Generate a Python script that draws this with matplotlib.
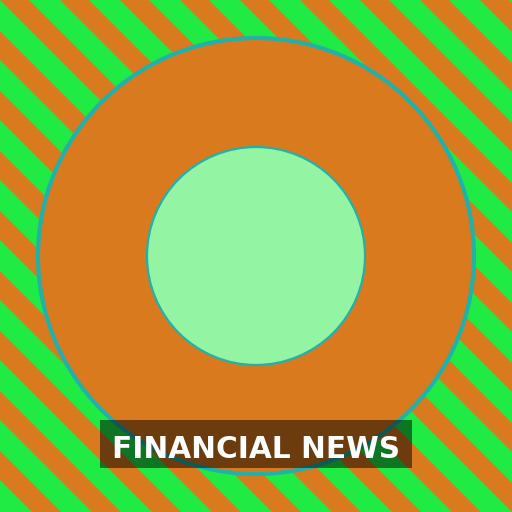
import matplotlib
matplotlib.use("Agg")
import matplotlib.pyplot as plt
from matplotlib.patches import Circle, Polygon, Rectangle

# data
labels = ["FINANCIAL NEWS"]
ring_values = [1.0]
stripe_colors = ["#D97A1F", "#20EB45"]
ring_color = "#D97A1F"
hole_color = "#93F5A3"
edge_color = "#20B2AA"

W = 512
fig = plt.figure(figsize=(5.12, 5.12), dpi=100)
ax = fig.add_axes([0, 0, 1, 1])
ax.set_xlim(0, W)
ax.set_ylim(W, 0)
ax.axis("off")

# background stripes
period = 60
ow = 29
ax.add_patch(Rectangle((0, 0), W, W, color=stripe_colors[1], zorder=0))
for k in range(-10, 10):
    c = k * period
    ax.add_patch(Polygon([(c, 0), (c + ow, 0), (c + ow + W, W), (c + W, W)],
                         closed=True, facecolor=stripe_colors[0], edgecolor="none", zorder=1))

# donut
cx, cy = 256, 256
R = 218 * ring_values[0]
r = 109
ax.add_patch(Circle((cx, cy), R, facecolor=ring_color, edgecolor=edge_color, linewidth=3.0, zorder=2))
ax.add_patch(Circle((cx, cy), r, facecolor=hole_color, edgecolor=edge_color, linewidth=1.6, zorder=3))

# banner
ax.add_patch(Rectangle((100, 420), 312, 48, facecolor="black", alpha=0.5, edgecolor="none", zorder=4))
ax.text(256, 458.3, labels[0], color="white", fontsize=21.3, fontweight="bold",
        ha="center", va="baseline", family="DejaVu Sans", zorder=5)

fig.savefig("out.png", dpi=100)
